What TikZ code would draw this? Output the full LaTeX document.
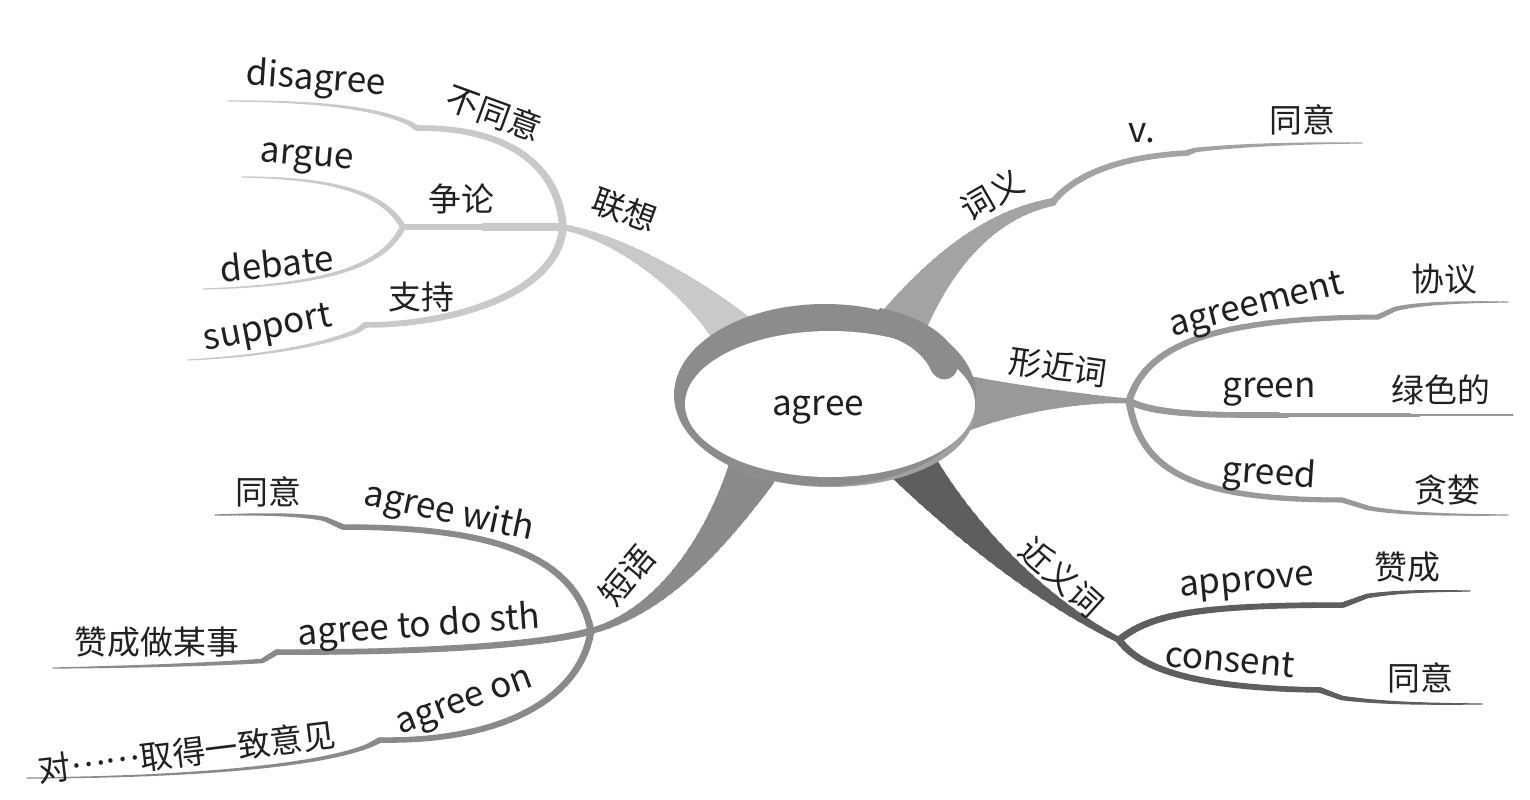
\documentclass[tikz,border=0pt]{standalone}
\usepackage{fontspec}
\setmainfont{Noto Sans CJK SC}
\usetikzlibrary{calc}

\definecolor{ink}{HTML}{231F20}
\definecolor{lxgray}{HTML}{C9C9C9}
\definecolor{cygray}{HTML}{A3A3A3}
\definecolor{xjgray}{HTML}{999999}
\definecolor{jygray}{HTML}{5E5E5E}
\definecolor{dygray}{HTML}{8A8A8A}
\definecolor{ringgray}{HTML}{8C8C8C}
\definecolor{rimgray}{HTML}{A0A0A0}

\def\tsteps{28}
% tapered branch: [power]{colour}{width at start}{width at end}{path}, widths in px
\newcommand\taper[5][1]{%
  \foreach \k in {1,...,\tsteps}{%
    \pgfmathsetmacro\ta{(\k-1)/\tsteps}%
    \pgfmathsetmacro\tb{\k/\tsteps}%
    \pgfmathsetmacro\wk{#4+(#3-#4)*(1-(\k-0.5)/\tsteps)^(#1)}%
    \path #5 coordinate[pos=\ta] (ta) coordinate[pos=\tb] (tb);%
    \draw[#2, line width=\wk*0.02cm, line cap=round] (ta) -- (tb);%
  }%
}

\begin{document}
\begin{tikzpicture}[x=0.02cm, y=-0.02cm,
  word/.style={font=\fontsize{20}{24}\selectfont, text=ink, inner sep=0pt},
  hz/.style={font=\fontsize{18.7}{22}\selectfont, text=ink, inner sep=0pt},
]
\useasboundingbox (0,0) rectangle (1530,799);

% ---- centre ----
\coordinate (c0) at (830,404);

% ---- 联想 ----
\coordinate (lxS) at (742,343);
\coordinate (lxJ) at (563,227);
\coordinate (disK) at (417,128);
\coordinate (disT) at (409,123);
\coordinate (disE) at (228,101);
\coordinate (argJ) at (403,227);
\coordinate (argE) at (242,177);
\coordinate (debE) at (203,289);
\coordinate (supK) at (365,325);
\coordinate (supT) at (357,331);
\coordinate (supE) at (188,360);

\taper[1.7]{lxgray}{48}{6}{(lxS) .. controls (710,300) and (630,240) .. (lxJ)}
\taper{lxgray}{8}{5.5}{(lxJ) .. controls (558,160) and (500,127) .. (disK)}
\taper{lxgray}{5.5}{4.5}{(disK) -- (disT)}
\taper{lxgray}{4.5}{1.2}{(disT) .. controls (380,110) and (330,101) .. (disE)}
\taper{lxgray}{8}{6}{(lxJ) -- (argJ)}
\taper{lxgray}{6}{1.2}{(argJ) .. controls (385,195) and (340,178) .. (argE)}
\taper{lxgray}{6}{1.2}{(argJ) .. controls (385,262) and (340,285) .. (debE)}
\taper{lxgray}{8}{5.5}{(lxJ) .. controls (558,295) and (450,325) .. (supK)}
\taper{lxgray}{5.5}{4.5}{(supK) -- (supT)}
\taper{lxgray}{4.5}{1.2}{(supT) .. controls (330,342) and (280,355) .. (supE)}

% ---- 词义 ----
\coordinate (cyS) at (897,333);
\coordinate (cyJ) at (1053,202);
\coordinate (vK) at (1187,153);
\coordinate (vT) at (1195,150);
\coordinate (vE) at (1362,143);

\taper[1.7]{cygray}{50}{8}{(cyS) .. controls (935,270) and (985,215) .. (cyJ)}
\taper{cygray}{6.5}{5.5}{(cyJ) .. controls (1070,180) and (1110,157) .. (vK)}
\taper{cygray}{5.5}{4.5}{(vK) -- (vT)}
\taper{cygray}{4.5}{1.2}{(vT) .. controls (1240,145) and (1300,143) .. (vE)}

% ---- 形近词 ----
\coordinate (xjS) at (950,404);
\coordinate (xjJ) at (1129,401);
\coordinate (agmK) at (1378,317);
\coordinate (agmT) at (1395,309);
\coordinate (agmE) at (1508,302);
\coordinate (grnK) at (1250,415);
\coordinate (grnE) at (1513,415);
\coordinate (grdK) at (1342,500);
\coordinate (grdT) at (1368,508);
\coordinate (grdE) at (1508,515);

\taper[1.6]{xjgray}{62}{5}{(xjS) .. controls (1000,400) and (1070,397) .. (xjJ)}
\taper{xjgray}{7}{5}{(xjJ) .. controls (1145,350) and (1200,318) .. (agmK)}
\taper{xjgray}{5}{4.5}{(agmK) -- (agmT)}
\taper{xjgray}{4.5}{1.2}{(agmT) .. controls (1420,303) and (1460,302) .. (agmE)}
\taper{xjgray}{7}{5.5}{(xjJ) .. controls (1150,412) and (1190,415) .. (grnK)}
\taper{xjgray}{5.5}{1.5}{(grnK) -- (grnE)}
\taper{xjgray}{7}{5}{(xjJ) .. controls (1140,470) and (1190,500) .. (grdK)}
\taper{xjgray}{5}{4.5}{(grdK) -- (grdT)}
\taper{xjgray}{4.5}{1.2}{(grdT) .. controls (1400,514) and (1450,515) .. (grdE)}

% ---- 近义词 ----
\coordinate (jyS) at (905,455);
\coordinate (jyJ) at (1119,640);
\coordinate (aprK) at (1343,605);
\coordinate (aprT) at (1367,596);
\coordinate (aprE) at (1470,591);
\coordinate (conK) at (1320,690);
\coordinate (conT) at (1342,698);
\coordinate (conE) at (1482,704);

\taper[1.6]{jygray}{50}{6}{(jyS) .. controls (950,515) and (1030,595) .. (jyJ)}
\taper{jygray}{7}{5.5}{(jyJ) .. controls (1150,614) and (1200,605) .. (aprK)}
\taper{jygray}{5.5}{4.5}{(aprK) -- (aprT)}
\taper{jygray}{4.5}{1.2}{(aprT) .. controls (1400,591) and (1430,591) .. (aprE)}
\taper{jygray}{7}{5.5}{(jyJ) .. controls (1140,668) and (1190,688) .. (conK)}
\taper{jygray}{5.5}{4.5}{(conK) -- (conT)}
\taper{jygray}{4.5}{1.2}{(conT) .. controls (1380,703) and (1420,704) .. (conE)}

% ---- 短语 ----
\coordinate (dyS) at (755,466);
\coordinate (dyJ) at (591,631);
\coordinate (awK) at (343,527);
\coordinate (awT) at (325,519);
\coordinate (awE) at (215,515);
\coordinate (atK) at (277,652);
\coordinate (atT) at (262,661);
\coordinate (atE) at (53,668);
\coordinate (aoK) at (380,740);
\coordinate (aoT) at (368,746);
\coordinate (aoE) at (27,778);

\taper[1.6]{dygray}{50}{6}{(dyS) .. controls (725,525) and (670,610) .. (dyJ)}
\taper{dygray}{7}{5.5}{(dyJ) .. controls (575,550) and (480,527) .. (awK)}
\taper{dygray}{5.5}{4.5}{(awK) -- (awT)}
\taper{dygray}{4.5}{1.2}{(awT) .. controls (300,514) and (260,514) .. (awE)}
\taper{dygray}{7}{5.5}{(dyJ) .. controls (560,640) and (470,653) .. (atK)}
\taper{dygray}{5.5}{4.5}{(atK) -- (atT)}
\taper{dygray}{4.5}{1.2}{(atT) .. controls (200,665) and (120,667) .. (atE)}
\taper{dygray}{7}{5.5}{(dyJ) .. controls (580,700) and (500,742) .. (aoK)}
\taper{dygray}{5.5}{4.5}{(aoK) -- (aoT)}
\taper{dygray}{4.5}{1.2}{(aoT) .. controls (320,765) and (200,777) .. (aoE)}

% ---- ring round the centre ----
\fill[rimgray] (830,411) ellipse [x radius=145, y radius=76];
\fill[ringgray] (825,395) ellipse [x radius=151, y radius=91];
\fill[white] (c0) ellipse [x radius=145, y radius=73];
\fill[ringgray] (865,331) .. controls (900,336) and (920,350) .. (930,368)
  .. controls (935,383) and (955,384) .. (958,366)
  .. controls (960,345) and (930,318) .. (880,308) -- cycle;

% ---- labels ----
\node[word] (agree) at (818,410) {agree};

\node[hz, rotate=-20] (lx) at (625,210) {联想};
\node[hz, rotate=-20] (lxA) at (494,113) {不同意};
\node[word, rotate=-4] (lxA2) at (316,80) {disagree};
\node[hz] (lxB) at (461,199) {争论};
\node[word, rotate=-5] (lxB2) at (307,160) {argue};
\node[word, rotate=6] (lxB3) at (277,263) {debate};
\node[hz] (lxC) at (421,297) {支持};
\node[word, rotate=11] (lxC2) at (268,330) {support};

\node[hz, rotate=30] (cy) at (992,195) {词义};
\node[word] (cyA) at (1142,133) {v.};
\node[hz] (cyA2) at (1302,120) {同意};

\node[hz, rotate=-8] (xj) at (1058,367) {形近词};
\node[word, rotate=14] (xjA) at (1257,307) {agreement};
\node[hz] (xjA2) at (1444,279) {协议};
\node[word] (xjB) at (1269,392) {green};
\node[hz] (xjB2) at (1441,390) {绿色的};
\node[word, rotate=-4] (xjC) at (1269,475) {greed};
\node[hz] (xjC2) at (1447,490) {贪婪};

\node[hz, rotate=-42] (jy) at (1062,577) {近义词};
\node[word, rotate=5] (jyA) at (1247,585) {approve};
\node[hz] (jyA2) at (1407,567) {赞成};
\node[word, rotate=-5] (jyB) at (1230,660) {consent};
\node[hz] (jyB2) at (1420,678) {同意};

\node[hz, rotate=50] (dy) at (627,575) {短语};
\node[word, rotate=-12] (dyA) at (449,513) {agree with};
\node[hz] (dyA2) at (268,492) {同意};
\node[word, rotate=4] (dyB) at (419,627) {agree to do sth};
\node[hz] (dyB2) at (157,642) {赞成做某事};
\node[word, rotate=20] (dyC) at (466,705) {agree on};
\node[hz, rotate=7] (dyC2) at (187,752) {对\raisebox{0.33em}{……}取得一致意见};
\end{tikzpicture}
\end{document}
